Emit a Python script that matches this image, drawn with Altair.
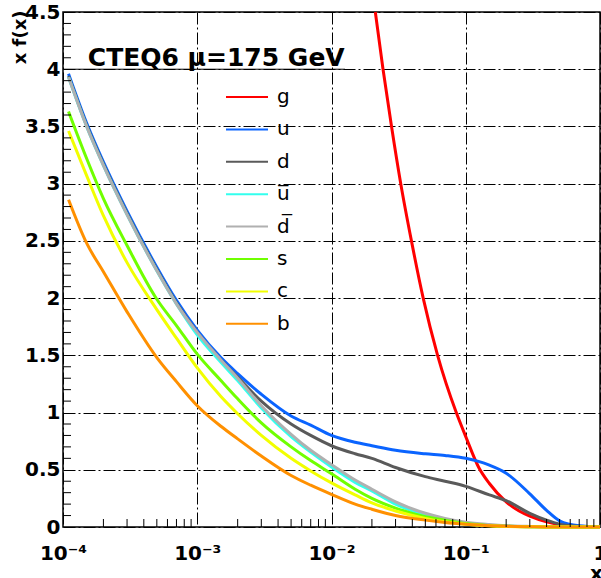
import altair as alt
import pandas as pd

# ---------------- data ----------------
partons = ["g", "u", "d", "u\u0305", "d\u0305", "s", "c", "b"]
colors = ["#ff0000", "#0a64ff", "#5a5a5a", "#33ffee", "#b0b0b0", "#70ff00", "#f2ff00", "#ff9000"]

x_grid = [1.1e-4, 1.5e-4, 2e-4, 3e-4, 5e-4, 7e-4, 1e-3, 1.5e-3, 2e-3, 3e-3, 5e-3, 7e-3,
          1e-2, 1.5e-2, 2e-2, 3e-2, 5e-2, 7e-2, 0.1, 0.15, 0.2, 0.3, 0.4, 0.5, 0.7, 1.0]

u_vals = [3.96, 3.53, 3.19, 2.76, 2.27, 1.98, 1.72, 1.48, 1.34, 1.16, 0.97, 0.89,
          0.80, 0.74, 0.71, 0.67, 0.64, 0.625, 0.60, 0.54, 0.47, 0.29, 0.145, 0.054, 0.01, 0.0]
d_vals = [3.94, 3.51, 3.17, 2.74, 2.25, 1.96, 1.70, 1.46, 1.31, 1.10, 0.90, 0.80,
          0.71, 0.64, 0.60, 0.52, 0.44, 0.40, 0.355, 0.28, 0.23, 0.12, 0.06, 0.025, 0.005, 0.0]
ubar_vals = [3.93, 3.50, 3.16, 2.73, 2.24, 1.95, 1.68, 1.44, 1.28, 1.04, 0.79, 0.655,
             0.525, 0.39, 0.315, 0.20, 0.105, 0.062, 0.033, 0.015, 0.008, 0.003, 0.001, 0.0, 0.0, 0.0]
dbar_vals = [3.93, 3.50, 3.16, 2.73, 2.24, 1.95, 1.70, 1.46, 1.30, 1.06, 0.81, 0.67,
             0.545, 0.41, 0.33, 0.22, 0.12, 0.075, 0.042, 0.022, 0.012, 0.005, 0.002, 0.0, 0.0, 0.0]
s_vals = [3.63, 3.22, 2.87, 2.46, 1.99, 1.76, 1.51, 1.28, 1.12, 0.91, 0.70, 0.58,
          0.465, 0.33, 0.25, 0.165, 0.09, 0.06, 0.03, 0.012, 0.006, 0.002, 0.001, 0.0, 0.0, 0.0]
c_vals = [3.46, 3.07, 2.72, 2.31, 1.90, 1.65, 1.39, 1.14, 0.99, 0.80, 0.60, 0.49,
          0.385, 0.28, 0.21, 0.14, 0.075, 0.045, 0.025, 0.01, 0.005, 0.002, 0.0, 0.0, 0.0, 0.0]
b_vals = [2.86, 2.48, 2.23, 1.88, 1.48, 1.27, 1.06, 0.88, 0.77, 0.62, 0.45, 0.365,
          0.285, 0.20, 0.155, 0.10, 0.06, 0.04, 0.025, 0.012, 0.006, 0.002, 0.0, 0.0, 0.0, 0.0]

x_g = [0.0212, 0.0242, 0.028, 0.0328, 0.0394, 0.0482, 0.0617, 0.085, 0.1, 0.125,
       0.15, 0.2, 0.25, 0.3, 0.4, 0.5, 0.7, 1.0]
g_vals = [4.5, 4.0, 3.5, 3.0, 2.5, 2.0, 1.5, 1.0, 0.79, 0.52,
          0.38, 0.22, 0.14, 0.095, 0.045, 0.02, 0.004, 0.0]

x_major = [1e-4, 1e-3, 1e-2, 1e-1, 1.0]
y_major = [0, 0.5, 1, 1.5, 2, 2.5, 3, 3.5, 4, 4.5]
y_minor = [0.1, 0.2, 0.3, 0.4, 0.6, 0.7, 0.8, 0.9, 1.1, 1.2, 1.3, 1.4, 1.6, 1.7, 1.8, 1.9,
           2.1, 2.2, 2.3, 2.4, 2.6, 2.7, 2.8, 2.9, 3.1, 3.2, 3.3, 3.4, 3.6, 3.7, 3.8, 3.9,
           4.1, 4.2, 4.3, 4.4]
x_minor = [m * 10.0 ** e for e in (-4, -3, -2, -1) for m in range(2, 10)]

title_text = "CTEQ6 \u03bc=175 GeV"

series = [
    ("g", x_g, g_vals),
    ("u", x_grid, u_vals),
    ("d", x_grid, d_vals),
    ("u\u0305", x_grid, ubar_vals),
    ("d\u0305", x_grid, dbar_vals),
    ("s", x_grid, s_vals),
    ("c", x_grid, c_vals),
    ("b", x_grid, b_vals),
]

rows = []
for name, xs, ys in series:
    for xv, yv in zip(xs, ys):
        rows.append({"parton": name, "x": xv, "y": yv})
df = pd.DataFrame(rows)

W, H = 537, 515
FONT = "DejaVu Sans"

xscale = alt.Scale(type="log", domain=[1e-4, 1.0], nice=False)
yscale = alt.Scale(domain=[0, 4.5], nice=False, zero=False)

x_label_expr = (
    "round(log(datum.value)/LN10) == 0 ? '1' : "
    "round(log(datum.value)/LN10) == -1 ? '10\u207b\u00b9' : "
    "round(log(datum.value)/LN10) == -2 ? '10\u207b\u00b2' : "
    "round(log(datum.value)/LN10) == -3 ? '10\u207b\u00b3' : '10\u207b\u2074'"
)

xaxis = alt.Axis(
    values=x_major, labelExpr=x_label_expr, grid=True, gridDash=[12, 3, 2, 3],
    gridColor="black", gridOpacity=1, gridWidth=1, ticks=False, domain=False,
    labelFont=FONT, labelFontSize=20, labelFontWeight="bold", labelColor="black",
    labelBaseline="alphabetic", labelPadding=32, labelFlush=False, labelOverlap=False,
    title="x", titleFont=FONT, titleFontSize=20, titleFontWeight="bold", titleColor="black",
    titleX=533, titleY=52, titleAlign="center", titleBaseline="alphabetic",
)
yaxis = alt.Axis(
    values=y_major, format="~g", grid=True, gridDash=[12, 3, 2, 3],
    gridColor="black", gridOpacity=1, gridWidth=1, ticks=False, domain=False,
    labelFont=FONT, labelFontSize=20, labelFontWeight="bold", labelColor="black",
    labelPadding=3, labelOverlap=False, labelFlush=False,
    title="x f(x)", titleFont=FONT, titleFontSize=18, titleFontWeight="bold", titleColor="black",
    titleAngle=270, titleX=-38, titleY=-2, titleAlign="right", titleBaseline="alphabetic",
)

X = alt.X("x:Q", scale=xscale, axis=xaxis)
Y = alt.Y("y:Q", scale=yscale, axis=yaxis)

color = alt.Color(
    "parton:N",
    scale=alt.Scale(domain=partons, range=colors),
    legend=alt.Legend(
        title=None, orient="none", legendX=162, legendY=63, direction="vertical",
        symbolType="stroke", symbolSize=1764, symbolStrokeWidth=2,
        labelFont=FONT, labelFontSize=20, labelColor="black", labelOffset=8,
        rowPadding=0.4, padding=0, labelLimit=0,
    ),
)

layers = []
for name in partons:
    layers.append(
        alt.Chart(df).transform_filter(alt.datum.parton == name)
        .mark_line(strokeWidth=3, interpolate="monotone")
        .encode(x=X, y=Y, color=color)
    )

# minor ticks along the axes
yt = alt.Chart(pd.DataFrame({"y": y_minor})).mark_rule(color="black", strokeWidth=1).encode(
    y=Y, x=alt.value(0), x2=alt.value(8)
)
xt = alt.Chart(pd.DataFrame({"x": x_minor})).mark_rule(color="black", strokeWidth=1).encode(
    x=X, y=alt.value(H), y2=alt.value(H - 8)
)

# title text and its solid underline
tl = alt.Chart(pd.DataFrame({"x": [1e-4], "x2": [0.0126], "y": [4.0]})).mark_rule(
    color="black", strokeWidth=1
).encode(x=X, x2="x2:Q", y=Y)
tt = alt.Chart(pd.DataFrame({"x": [1.53e-4], "y": [4.03], "t": [title_text]})).mark_text(
    align="left", baseline="alphabetic", font=FONT, fontSize=25, fontWeight="bold", color="black"
).encode(x=X, y=Y, text="t:N")

chart = alt.layer(*layers, yt, xt, tl, tt).properties(
    width=W, height=H,
    padding={"left": 63, "top": 12, "right": 1, "bottom": 51},
    autosize=alt.AutoSizeParams(type="none"),
    background="white",
).configure_view(stroke="black", strokeWidth=1.5)

chart.save("out.html", embed_options={"renderer": "svg", "actions": False})
